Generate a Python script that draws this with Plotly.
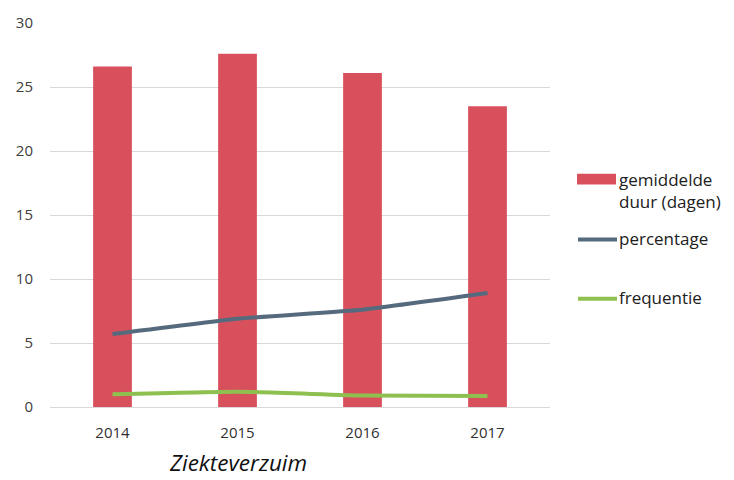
import plotly.graph_objects as go

years = ["2014", "2015", "2016", "2017"]
duur = [26.6, 27.6, 26.1, 23.5]
percentage = [5.7, 6.9, 7.6, 8.9]
frequentie = [1.0, 1.2, 0.9, 0.85]
y_ticks = [0, 5, 10, 15, 20, 25, 30]
series_names = ["gemiddelde<br>duur (dagen)", "percentage", "frequentie"]
colors = ["#D9505D", "#566A7E", "#8DC04F"]

font_family = "Open Sans, Liberation Sans, sans-serif"

W, H = 734, 480
L, R, T, B = 50, 184, 17, 73
pw, ph = W - L - R, H - T - B


def px(xp):
    return (xp - L) / pw


def py(yp):
    return (H - B - yp) / ph


fig = go.Figure()
fig.add_trace(go.Bar(
    x=years, y=duur, name=series_names[0],
    marker=dict(color=colors[0], line=dict(width=0)), width=0.31,
))
fig.add_trace(go.Scatter(
    x=years, y=percentage, name=series_names[1], mode="lines",
    line=dict(color=colors[1], width=4, shape="spline", smoothing=0.4),
))
fig.add_trace(go.Scatter(
    x=years, y=frequentie, name=series_names[2], mode="lines",
    line=dict(color=colors[2], width=4, shape="spline", smoothing=0.4),
))

# manual legend (swatches + labels)
shapes = [
    dict(type="rect", xref="paper", yref="paper", x0=px(577), x1=px(616), y0=py(181), y1=py(170),
         fillcolor=colors[0], line=dict(width=0)),
    dict(type="line", xref="paper", yref="paper", x0=px(578), x1=px(617), y0=py(237), y1=py(237),
         line=dict(color=colors[1], width=4)),
    dict(type="line", xref="paper", yref="paper", x0=px(578), x1=px(617), y0=py(297), y1=py(297),
         line=dict(color=colors[2], width=4)),
]
leg_font = dict(family=font_family, size=17, color="#202020")
annotations = [
    dict(text=series_names[0], x=px(617), y=py(187), xref="paper", yref="paper",
         xanchor="left", yanchor="middle", align="left", showarrow=False, font=leg_font),
    dict(text=series_names[1], x=px(617), y=py(236), xref="paper", yref="paper",
         xanchor="left", yanchor="middle", align="left", showarrow=False, font=leg_font),
    dict(text=series_names[2], x=px(617), y=py(296), xref="paper", yref="paper",
         xanchor="left", yanchor="middle", align="left", showarrow=False, font=leg_font),
    dict(text="<i>Ziekteverzuim</i>", x=px(238), y=py(463), xref="paper", yref="paper",
         xanchor="center", yanchor="middle", showarrow=False,
         font=dict(family=font_family, size=22.5, color="#101010")),
]

fig.update_layout(
    width=W, height=H,
    margin=dict(l=L, r=R, t=T, b=B),
    plot_bgcolor="white", paper_bgcolor="white",
    font=dict(family=font_family, size=15, color="#404040"),
    showlegend=False,
    shapes=shapes,
    annotations=annotations,
)
fig.update_xaxes(
    type="category", showgrid=False, showline=True, linecolor="#D9D9D9", linewidth=1,
    ticks="", tickfont=dict(size=15, color="#303030"), ticklabelstandoff=12,
)
fig.update_yaxes(
    range=[0, 30], tickvals=y_ticks, showgrid=True, gridcolor="#D9D9D9", gridwidth=1,
    zeroline=False, ticks="", tickfont=dict(size=15, color="#404040"), ticklabelstandoff=16,
)

fig.write_html("out.html", config={"displayModeBar": False},
               post_script="document.body.style.margin='0';")
